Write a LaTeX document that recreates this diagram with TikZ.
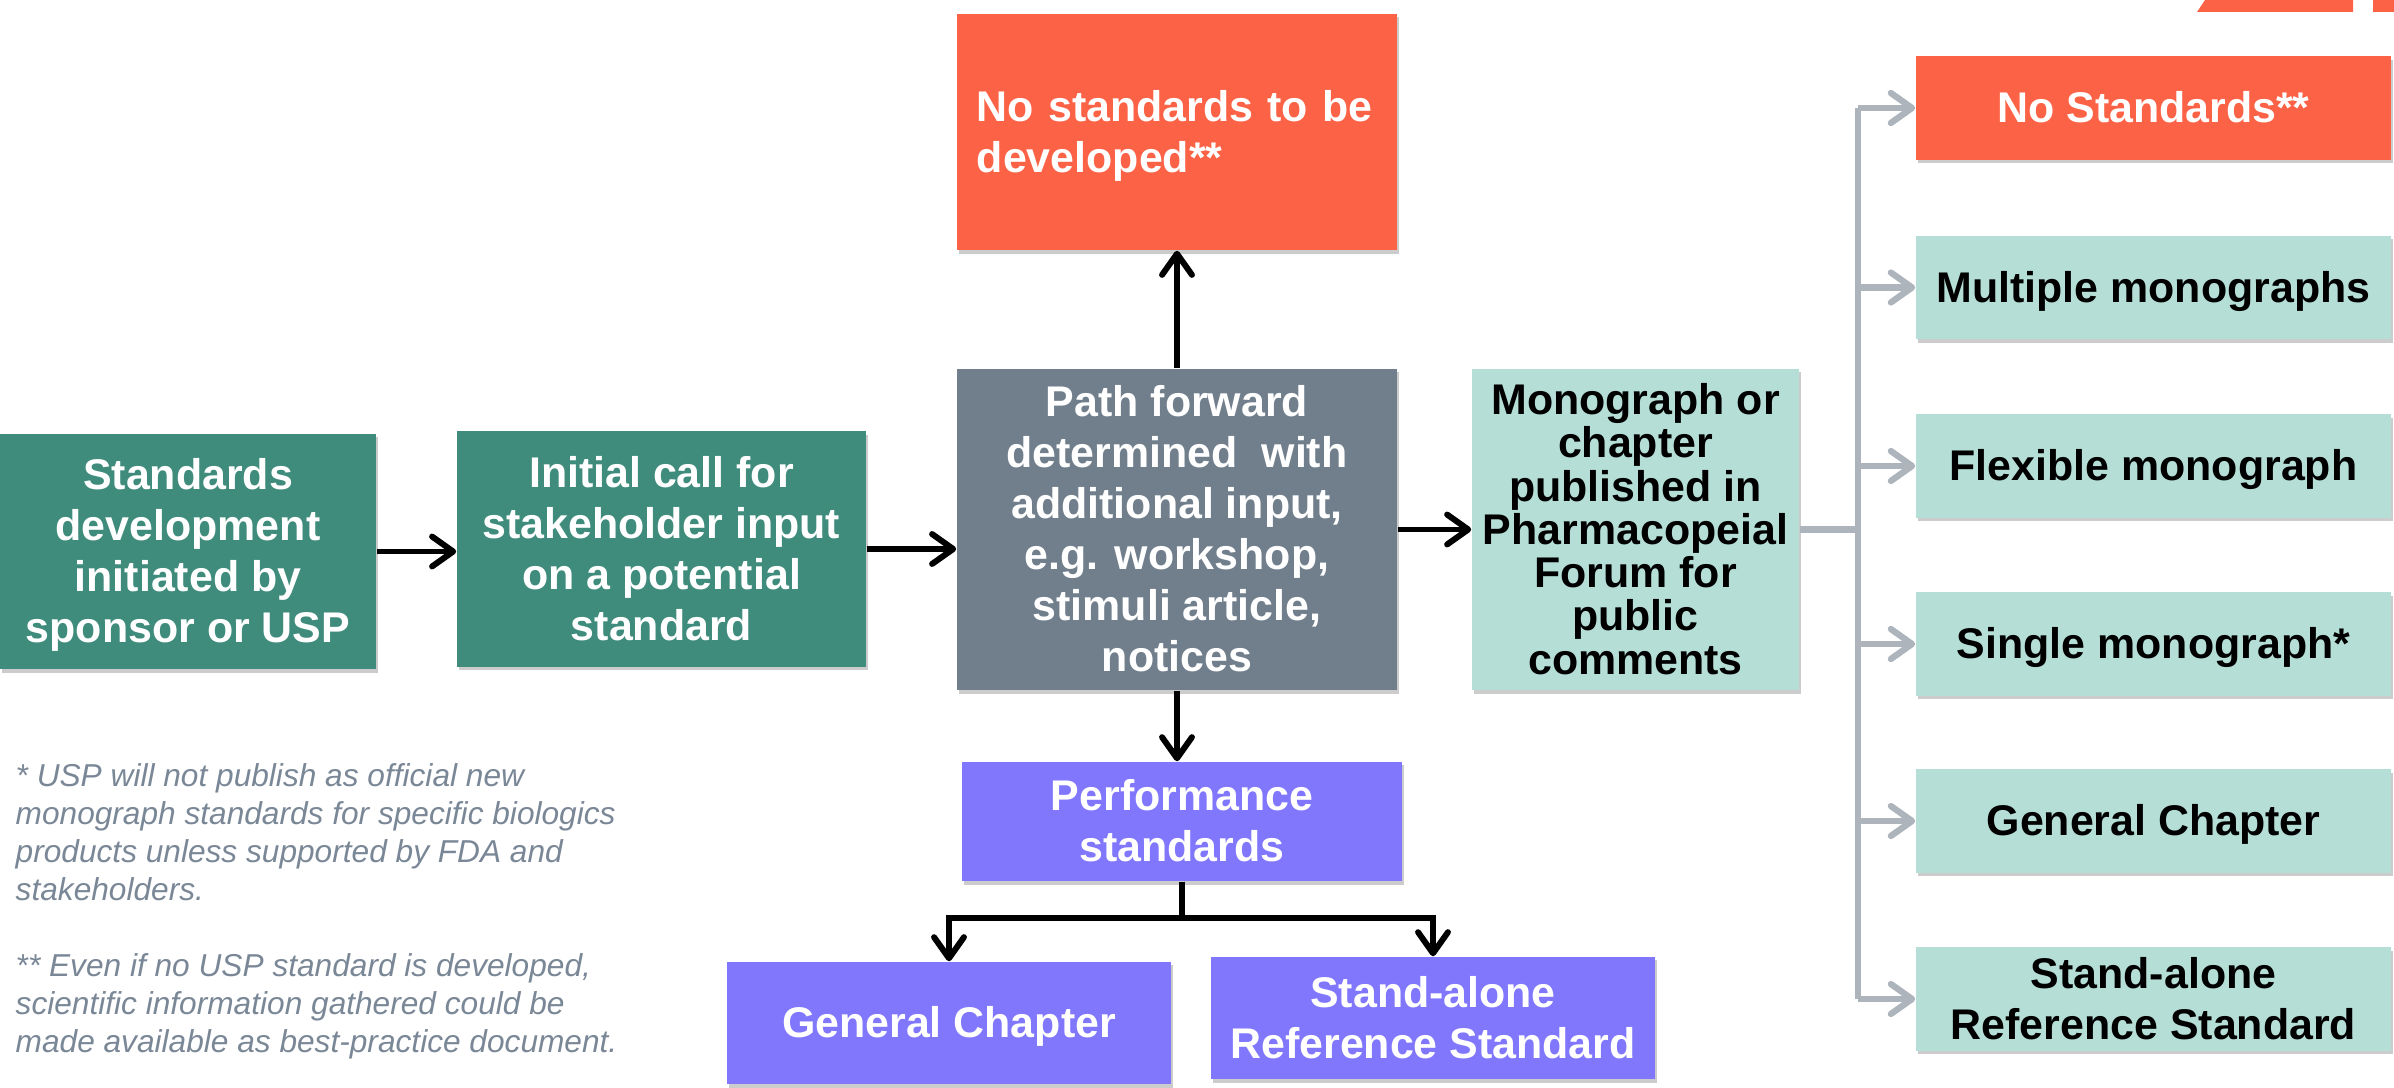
\documentclass[tikz,border=0pt]{standalone}
\usepackage{fontspec}
\setmainfont{Liberation Sans}
\usetikzlibrary{arrows.meta,shadows}
\definecolor{dteal}{HTML}{3F8C7D}
\definecolor{slate}{HTML}{717F8D}
\definecolor{tomato}{HTML}{FC6246}
\definecolor{lteal}{HTML}{B5DED7}
\definecolor{violet2}{HTML}{8077FC}
\definecolor{conn}{HTML}{ADB4BC}
\definecolor{note}{HTML}{7A8796}
\begin{document}
\begin{tikzpicture}[x=0.01cm,y=-0.01cm,
  box/.style={inner sep=0pt, align=center, font=\bfseries\fontsize{12.2}{14.5}\selectfont,
    text depth=2.59pt,
    drop shadow={shadow xshift=0.02cm, shadow yshift=-0.035cm, opacity=0.2, fill=black}},
  lone/.style={text height=11.04pt},
  ltwo/.style={text height=25.54pt},
  lfour/.style={text height=54.54pt},
  lsix/.style={text height=83.54pt},
  wbox/.style={box, text=white},
  rbox/.style={box, lone, minimum width=4.75cm, minimum height=1.03cm},
  blk/.style={draw=black, line width=1.7pt, -{Straight Barb[length=6pt,width=8.5pt,line cap=round,line join=round]}},
  gry/.style={draw=conn, line width=1.8pt},
  garr/.style={gry, -{Straight Barb[length=6pt,width=8.5pt,line cap=round,line join=round]}},
]
\useasboundingbox (0,0) rectangle (2394,1088);

% logo fragment at top right
\fill[tomato] (2197,12) -- (2205,0) -- (2353,0) -- (2353,12) -- cycle;
\fill[tomato] (2373,0) rectangle (2394,12);

\node[wbox, lfour, fill=dteal, minimum width=3.76cm, minimum height=2.35cm] (A) at (188,551.5)
  {Standards\\development\\initiated by\\sponsor or USP};
\node[wbox, lfour, fill=dteal, minimum width=4.09cm, minimum height=2.35cm] (B) at (661.5,549)
  {Initial call for\\stakeholder input\\on a potential\\standard};
\node[wbox, lsix, fill=slate, minimum width=4.40cm, minimum height=3.21cm] (C) at (1177,529.5)
  {Path forward\\determined~ with\\additional input,\\e.g. workshop,\\stimuli article,\\notices};
\node[wbox, fill=tomato, minimum width=4.40cm, minimum height=2.36cm, text width=4.0cm, align=left,
  text height=11.04pt, text depth=17.09pt] (D) at (1177,132)
  {No standards to be\\developed**};
\node[box, text height=84.84pt, fill=lteal, minimum width=3.27cm, minimum height=3.21cm, font=\bfseries\fontsize{12.2}{12.3}\selectfont] (E) at (1635.5,529.5)
  {Monograph or\\chapter\\published in\\Pharmacopeial\\Forum for\\public\\comments};
\node[wbox, ltwo, fill=violet2, minimum width=4.40cm, minimum height=1.19cm] (F) at (1182,821.5)
  {Performance\\standards};
\node[wbox, lone, fill=violet2, minimum width=4.44cm, minimum height=1.22cm] (G) at (949,1023)
  {General Chapter};
\node[wbox, ltwo, fill=violet2, minimum width=4.44cm, minimum height=1.22cm] (H) at (1433,1018)
  {Stand-alone\\Reference Standard};

\node[rbox, fill=tomato, text=white] (R1) at (2153.5,108) {No Standards**};
\node[rbox, fill=lteal] (R2) at (2153.5,287.5) {Multiple monographs};
\node[rbox, fill=lteal] (R3) at (2153.5,466) {Flexible monograph};
\node[rbox, fill=lteal] (R4) at (2153.5,644) {Single monograph*};
\node[rbox, fill=lteal] (R5) at (2153.5,821) {General Chapter};
\node[rbox, ltwo, fill=lteal] (R6) at (2153.5,999) {Stand-alone\\Reference Standard};

\node[anchor=north west, inner sep=0pt, align=left, text=note,
  font=\itshape\fontsize{9}{10.8}\selectfont] (fn) at (15,763)
  {* USP will not publish as official new\\
   monograph standards for specific biologics\\
   products unless supported by FDA and\\
   stakeholders.\\[10.8pt]
   ** Even if no USP standard is developed,\\
   scientific information gathered could be\\
   made available as best-practice document.};

% black connectors
\draw[blk] (A.east) -- (B.west |- A.east);
\draw[blk] (B.east) -- (C.west |- B.east);
\draw[blk] (C.east) -- (E.west);
\draw[blk] (C.north) -- (D.south);
\draw[blk] (C.south) -- (C.south |- F.north);
\draw[blk] (F.south) -- ++(0,36) -| (G.north);
\draw[blk] (F.south) -- ++(0,36) -| (H.north);

% grey bus
\coordinate (bus) at (1858,0);
\draw[gry] (E.east) -- (bus |- E.east);
\draw[gry] (bus |- R1.west) -- (bus |- R6.west);
\foreach \r in {R1,R2,R3,R4,R5,R6}
  \draw[garr] (bus |- \r.west) -- (\r.west);
\end{tikzpicture}
\end{document}
